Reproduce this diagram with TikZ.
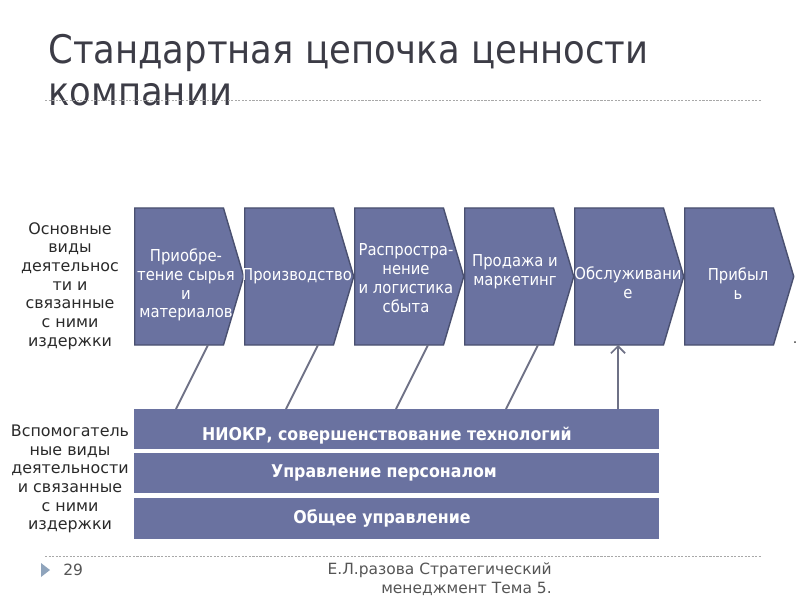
\documentclass[tikz,border=0pt]{standalone}
\usepackage{fontspec}
\setmainfont{DejaVu Sans Condensed}
\newfontfamily\widefont{DejaVu Sans}
\usetikzlibrary{shapes.symbols,arrows.meta,calc}
\definecolor{chainfill}{HTML}{6A72A0}
\definecolor{chainline}{HTML}{4A5070}
\definecolor{linkgray}{HTML}{6E7186}
\definecolor{titlegray}{HTML}{3C3C46}
\definecolor{textgray}{HTML}{2A2A2A}
\definecolor{footgray}{HTML}{555555}
\definecolor{markblue}{HTML}{8FA4BC}
\definecolor{rulegray}{HTML}{A8A8A8}
\begin{document}
\begin{tikzpicture}[x=0.025cm,y=-0.025cm,
    chevron/.style={signal, signal to=east, signal pointer angle=147,
        fill=chainfill, draw=chainline, line width=1pt,
        minimum width=2.725cm, minimum height=3.425cm, inner sep=0pt, anchor=west},
    chevtext/.style={text=white, align=center, inner sep=0pt,
        font=\fontsize{11.7}{13.4}\selectfont},
    bar/.style={fill=chainfill, minimum width=13.125cm, inner sep=0pt, anchor=north west},
    bartext/.style={text=white, inner sep=0pt, font=\fontsize{12.5}{14}\selectfont\bfseries},
    sidetext/.style={text=textgray, align=center, inner sep=0pt,
        font=\widefont\fontsize{11.3}{13.3}\selectfont},
    link/.style={draw=linkgray, line width=1.4pt},
    rule/.style={draw=rulegray, line width=0.5pt, dash pattern=on 1.5pt off 1pt}]
    \useasboundingbox (0,0) rectangle (800,600);
    % title
    \node[anchor=west, text=titlegray, align=left, inner sep=0pt,
        font=\fontsize{28}{30}\selectfont] (title) at (48,70)
        {Стандартная цепочка ценности\\компании};
    \draw[rule] (45,100) -- (762,100);
    % primary activities
    \node[chevron] (c1) at (134,276.5) {};
    \node[chevron] (c2) at (244,276.5) {};
    \node[chevron] (c3) at (354,276.5) {};
    \node[chevron] (c4) at (464,276.5) {};
    \node[chevron] (c5) at (574,276.5) {};
    \node[chevron] (c6) at (684,276.5) {};
    \node[chevtext] (t1) at (186,285) {Приобре-\\тение сырья\\и\\материалов};
    \node[chevtext] (t2) at (297,276) {Производство};
    \node[chevtext] (t3) at (406,278) {Распростра-\\нение\\и логистика\\сбыта};
    \node[chevtext] (t4) at (515,272) {Продажа и\\маркетинг};
    \node[chevtext] (t5) at (628,283) {Обслуживани\\е};
    \node[chevtext] (t6) at (738,284) {Прибыл\\ь};
    \node[inner sep=0pt, text=textgray, font=\fontsize{10}{12}\selectfont] (dot) at (795,343) {.};
    \node[sidetext] (main) at (70,286) {Основные\\виды\\деятельнос\\ти и\\связанные\\с ними\\издержки};
    % support activities
    \node[bar, minimum height=1cm] (niokr) at (134,409) {};
    \node[bar, minimum height=1cm] (staff) at (134,453) {};
    \node[bar, minimum height=1.025cm] (admin) at (134,498) {};
    \node[bartext] (niokrtext) at (387,436) {НИОКР, совершенствование технологий};
    \node[bartext] (stafftext) at (384,473) {Управление персоналом};
    \node[bartext] (admintext) at (382,518) {Общее управление};
    \node[sidetext] (support) at (70,479) {Вспомогатель\\ные виды\\деятельности\\и связанные\\с ними\\издержки};
    % links
    \foreach \i/\d in {1/0,2/110,3/220,4/330}
        \draw[link] ($(niokr.north west)+(42+\d,0)$) -- ($(c\i.west)+(74,68.5)$);
    \draw[link, -{Straight Barb[length=5pt,width=10pt,line width=1.2pt]}]
        ($(niokr.north west)+(484,0)$) -- ($(c5.west)+(44,68.5)$);
    % footer
    \draw[rule] (45,556) -- (762,556);
    \fill[markblue] (41,563) -- (50,570) -- (41,577) -- cycle;
    \node[anchor=west, text=footgray, inner sep=0pt, font=\widefont\fontsize{11}{12}\selectfont] (page) at (63,570) {29};
    \node[anchor=east, text=footgray, align=right, inner sep=0pt,
        font=\widefont\fontsize{11}{13.4}\selectfont] (author) at (552,579)
        {Е.Л.разова Стратегический\\менеджмент Тема 5.};
\end{tikzpicture}
\end{document}
